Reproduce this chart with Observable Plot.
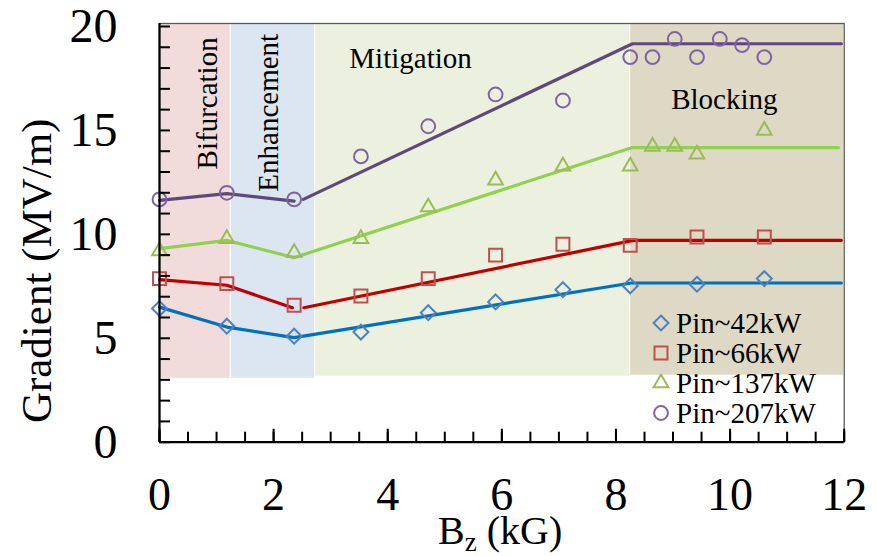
<!DOCTYPE html>
<html><head><meta charset="utf-8">
<script src="https://cdn.jsdelivr.net/npm/d3@7"></script>
<script src="https://cdn.jsdelivr.net/npm/@observablehq/plot@0.6"></script>
<style>
html,body{margin:0;padding:0;background:#fff;}
#wrap{position:relative;width:877px;height:556px;font-family:"Liberation Serif","Times New Roman",serif;color:#000;}
#legend{position:absolute;left:652px;top:308px;}
.row{display:flex;align-items:center;height:30px;font-size:29px;line-height:30px;white-space:nowrap;}
.row svg{margin-right:6px;flex:none;}
#xtitle{position:absolute;left:438px;top:511px;font-size:40px;line-height:40px;white-space:nowrap;}
#xtitle span{font-size:27px;position:relative;top:7px;}
</style></head><body><div id="wrap"></div>
<script>
// ---------- data ----------
const series = ["Pin~42kW", "Pin~66kW", "Pin~137kW", "Pin~207kW"];

const bz42 = [0, 1.18, 2.36, 3.53, 4.71, 5.89, 7.07, 8.25, 9.42, 10.6];
const grad42 = [6.43, 5.58, 5.1, 5.3, 6.23, 6.75, 7.34, 7.52, 7.6, 7.87];

const bz66 = [0, 1.18, 2.36, 3.53, 4.71, 5.89, 7.07, 8.25, 9.42, 10.6];
const grad66 = [7.87, 7.63, 6.59, 7.03, 7.87, 9.0, 9.52, 9.47, 9.87, 9.87];

const bz137 = [0, 1.18, 2.36, 3.53, 4.71, 5.89, 7.07, 8.25, 8.64, 9.03, 9.42, 10.6];
const grad137 = [9.2, 9.79, 9.12, 9.79, 11.31, 12.6, 13.28, 13.28, 14.23, 14.23, 13.85, 15.0];

const bz207 = [0, 1.18, 2.36, 3.53, 4.71, 5.89, 7.07, 8.25, 8.64, 9.03, 9.42, 9.82, 10.21, 10.6];
const grad207 = [11.68, 12.0, 11.68, 13.75, 15.2, 16.73, 16.44, 18.53, 18.53, 19.4, 18.53, 19.4, 19.1, 18.53];

// trend lines (segment id separates broken pieces)
const fit42X = [0, 1.18, 2.36, 8.27, 11.95];
const fit42Y = [6.5, 5.54, 5.03, 7.66, 7.66];
const fit42Seg = [0, 0, 0, 0, 0];

const fit66X = [0, 1.18, 2.33, 2.53, 8.3, 11.95];
const fit66Y = [7.82, 7.55, 6.47, 6.47, 9.71, 9.71];
const fit66Seg = [0, 0, 0, 1, 1, 1];

const fit137X = [0, 1.18, 2.36, 8.27, 11.9];
const fit137Y = [9.31, 9.71, 8.88, 14.17, 14.17];
const fit137Seg = [0, 0, 0, 0, 0];

const fit207X = [0, 1.18, 2.36, 2.52, 8.29, 11.95];
const fit207Y = [11.63, 11.96, 11.6, 11.68, 19.17, 19.17];
const fit207Seg = [0, 0, 0, 1, 1, 1];

// shaded regimes
const regionNames = ["Bifurcation", "Enhancement", "Mitigation", "Blocking"];
const regionStart = [0, 1.25, 2.73, 8.25];
const regionEnd = [1.25, 2.73, 8.25, 12];
const regionBottom = [3.05, 3.05, 3.15, 3.2];
const regionLabelX = [0.85, 1.92, 4.4, 9.9];
const regionLabelY = [16.3, 15.85, 18.47, 16.5];

// ticks
const yMax = 20.144;
const yLabelTicks = [0, 5, 10, 15, 20];
const yMinorTicks = d3.range(0, 21, 1);
const xLabelTicks = [0, 2, 4, 6, 8, 10, 12];
const xMinorTicks = d3.range(0, 12.01, 0.5);

const yTitle = "Gradient (MV/m)";

// ---------- styles ----------
const regionFill = ["#F2DCDB", "#DCE6F1", "#EBF1DE", "#DDD9C4"];
const regionRotate = [-90, -90, 0, 0];
const lineColor = ["#0070C0", "#C00000", "#92D050", "#5F497A"];
const markColor = ["#4F81BD", "#C0504D", "#9BBB59", "#8064A2"];
const markSymbol = ["diamond2", "square", "triangle2", "circle"];
const markR = [6.7, 7.3, 7.0, 6.9];

// ---------- build tables ----------
const pts = [[bz42, grad42], [bz66, grad66], [bz137, grad137], [bz207, grad207]]
  .map(([xs, ys]) => xs.map((x, i) => ({x, y: ys[i]})));
const fits = [[fit42X, fit42Y, fit42Seg], [fit66X, fit66Y, fit66Seg],
              [fit137X, fit137Y, fit137Seg], [fit207X, fit207Y, fit207Seg]]
  .map(([xs, ys, ss]) => xs.map((x, i) => ({x, y: ys[i], seg: ss[i]})));
const regions = regionNames.map((name, i) => ({
  name, start: regionStart[i], end: regionEnd[i], bottom: regionBottom[i],
  lx: regionLabelX[i], ly: regionLabelY[i], fill: regionFill[i], rot: regionRotate[i]
}));

const font = "Liberation Serif, Times New Roman, serif";

const marks = [
  Plot.rect(regions, {x1: "start", x2: "end", y1: "bottom", y2: yMax, fill: d => d.fill, stroke: "white", strokeWidth: 1}),
  Plot.frame({stroke: "#595959", strokeWidth: 1.3}),
  ...fits.map((f, i) => Plot.line(f, {x: "x", y: "y", z: "seg", stroke: lineColor[i], strokeWidth: 3.2})),
  ...pts.map((p, i) => Plot.dot(p, {x: "x", y: "y", symbol: markSymbol[i], r: markR[i], stroke: markColor[i], strokeWidth: 2, fill: "none"})),
  Plot.text(regions, {x: "lx", y: "ly", text: "name", rotate: d => d.rot, fontSize: 29, fill: "black", fontFamily: font}),
  Plot.axisY(yMinorTicks, {tickSize: 11, dx: 11, fill: "none", stroke: "black", strokeWidth: 2, label: null}),
  Plot.axisY(yLabelTicks, {tickSize: 0, tickPadding: 42, fontSize: 48, fill: "black", label: null, fontFamily: font}),
  Plot.axisX(xMinorTicks, {tickSize: 10, dy: -10, fill: "none", stroke: "black", strokeWidth: 2, label: null}),
  Plot.axisX(xLabelTicks, {tickSize: 13, dy: -13, fill: "none", stroke: "black", strokeWidth: 2, label: null}),
  Plot.axisX(xLabelTicks, {tickSize: 0, tickPadding: 35, fontSize: 46, fill: "black", label: null, fontFamily: font}),
  Plot.ruleX([0], {stroke: "black", strokeWidth: 2.2}),
  Plot.ruleY([0], {stroke: "black", strokeWidth: 2.2}),
  Plot.text([yTitle], {frameAnchor: "left", textAnchor: "middle", lineAnchor: "middle", rotate: -90, dx: -122, dy: 38, fontSize: 43, fill: "black", fontFamily: font})
];

const chart = Plot.plot({
  width: 877, height: 556,
  marginLeft: 159, marginRight: 33.3, marginTop: 23, marginBottom: 114.3,
  x: {domain: [0, 12], axis: null},
  y: {domain: [0, yMax], axis: null},
  style: {fontFamily: font, background: "white", overflow: "visible"},
  marks
});

const wrap = document.getElementById("wrap");
wrap.appendChild(chart);

// legend
const legend = document.createElement("div");
legend.id = "legend";
const symMap = {diamond2: d3.symbolDiamond2, square: d3.symbolSquare, triangle2: d3.symbolTriangle2, circle: d3.symbolCircle};
series.forEach((name, i) => {
  const row = document.createElement("div");
  row.className = "row";
  const path = d3.symbol().type(symMap[markSymbol[i]]).size(Math.PI * markR[i] * markR[i])();
  row.innerHTML = `<svg width="18" height="18" viewBox="-9 -9 18 18"><path d="${path}" fill="none" stroke="${markColor[i]}" stroke-width="2"/></svg><span>${name}</span>`;
  legend.appendChild(row);
});
wrap.appendChild(legend);

// x title with subscript
const xt = document.createElement("div");
xt.id = "xtitle";
xt.innerHTML = "B<span>z</span> (kG)";
wrap.appendChild(xt);
</script>
</body></html>
